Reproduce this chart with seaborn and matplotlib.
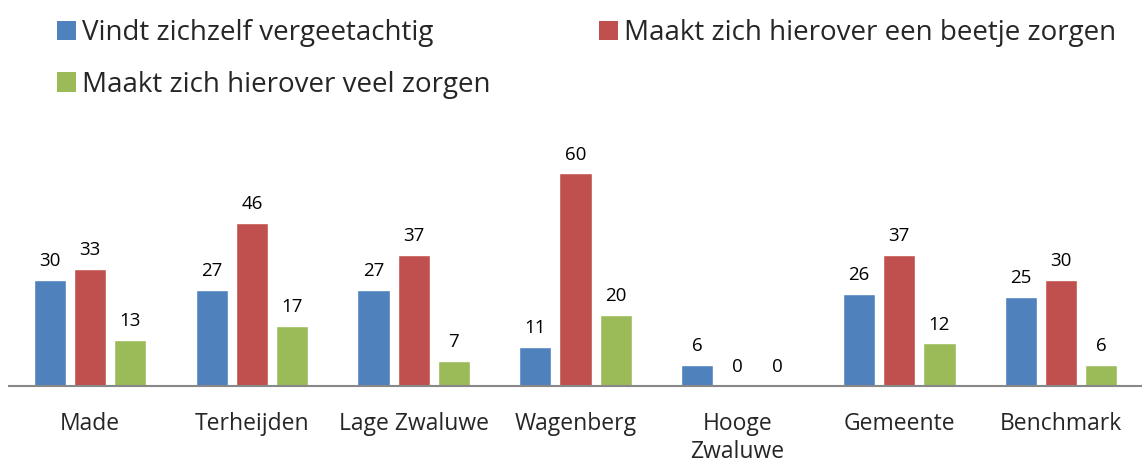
import matplotlib
matplotlib.use("Agg")
import matplotlib.pyplot as plt
import seaborn as sns
import pandas as pd
from matplotlib.patches import Patch

# Data
locaties = ["Made", "Terheijden", "Lage Zwaluwe", "Wagenberg", "Hooge\nZwaluwe", "Gemeente", "Benchmark"]
series_namen = ["Vindt zichzelf vergeetachtig", "Maakt zich hierover een beetje zorgen", "Maakt zich hierover veel zorgen"]
vergeetachtig = [30, 27, 27, 11, 6, 26, 25]
beetje_zorgen = [33, 46, 37, 60, 0, 37, 30]
veel_zorgen = [13, 17, 7, 20, 0, 12, 6]

kleuren = ["#4F81BD", "#C0504D", "#9BBB59"]

rows = []
for naam, waarden in zip(series_namen, [vergeetachtig, beetje_zorgen, veel_zorgen]):
    for loc, v in zip(locaties, waarden):
        rows.append({"locatie": loc, "reeks": naam, "waarde": v})
df = pd.DataFrame(rows)

sns.set_style("white")
plt.rcParams["font.family"] = ["Open Sans", "DejaVu Sans"]

fig = plt.figure(figsize=(11.42, 4.62), dpi=100)
ax = fig.add_axes([0.008, 0.165, 0.992, 0.575])

sns.barplot(data=df, x="locatie", y="waarde", hue="reeks", hue_order=series_namen,
            palette=kleuren, width=0.745, gap=0.2, ax=ax, legend=False, saturation=1)

for cont in ax.containers:
    ax.bar_label(cont, padding=7, fontsize=13.5, color="#000000")

ax.set_ylim(0, 75)
ax.set_xlim(-0.5, 6.5)
ax.set_xlabel("")
ax.set_ylabel("")
ax.set_yticks([])
ax.tick_params(axis="x", length=0, pad=19, labelsize=16.5)
for s in ["top", "right", "left"]:
    ax.spines[s].set_visible(False)
ax.spines["bottom"].set_color("#888888")
ax.spines["bottom"].set_linewidth(1.5)

# legenda rij voor rij: volgorde zo dat kolom 1 = blauw, groen en kolom 2 = rood
handles = [Patch(facecolor=c, edgecolor="none") for c in kleuren]
volgorde = [0, 2, 1]
fig.legend([handles[i] for i in volgorde], [series_namen[i] for i in volgorde],
           loc="upper left", bbox_to_anchor=(0.028, 1.013),
           ncol=2, frameon=False, fontsize=20, handlelength=0.7, handleheight=0.7,
           handletextpad=0.2, columnspacing=3.9, labelspacing=0.85)

fig.savefig("out.png", dpi=100)
